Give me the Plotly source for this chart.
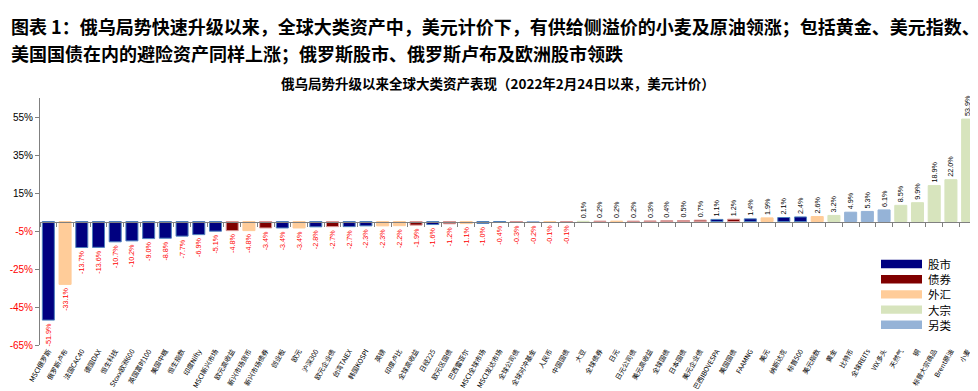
import plotly.graph_objects as go

categories = [
    "MSCI俄罗斯", "俄罗斯卢布", "法国CAC40", "德国DAX", "恒生科技", "Stoxx欧洲600",
    "英国富时100", "美国中概", "恒生指数", "印度Nifty", "MSCI新兴市场", "欧元高收益",
    "新兴市场货币", "新兴市场债券", "创业板", "欧元", "沪深300", "欧元企业债",
    "台湾TAIEX", "韩国KOSPI", "英镑", "印度卢比", "全球高收益", "日经225",
    "欧元区国债", "巴西雷亚尔", "MSCI全球市场", "MSCI发达市场", "全球公司债",
    "全球对冲基金", "人民币", "中国国债", "大豆", "全球债券", "日元", "日元公司债",
    "美元高收益", "全球国债", "日本国债", "美元企业债", "巴西IBOVESPA", "美国国债",
    "FAAMNG", "美元", "纳斯达克", "标普500", "美元指数", "黄金", "比特币",
    "全球REITs", "VIX多头", "天然气", "铜", "标普大宗商品", "Brent原油", "小麦",
]
values = [
    -51.9, -33.1, -13.7, -13.6, -10.7, -10.2, -9.0, -8.8, -7.7, -6.9, -5.1, -4.8,
    -4.8, -3.4, -3.4, -3.4, -2.8, -2.7, -2.7, -2.3, -2.3, -2.2, -1.9, -1.6,
    -1.2, -1.1, -1.0, -0.4, -0.3, -0.2, -0.1, -0.1, 0.1, 0.2, 0.2, 0.2,
    0.3, 0.4, 0.5, 0.7, 1.1, 1.2, 1.4, 1.9, 2.1, 2.4, 2.6, 3.2, 4.9,
    5.3, 6.1, 8.5, 9.9, 18.9, 22.0, 53.9,
]
asset_types = [
    "股市", "外汇", "股市", "股市", "股市", "股市", "股市", "股市", "股市", "股市",
    "股市", "债券", "外汇", "债券", "股市", "外汇", "股市", "债券", "股市", "股市",
    "外汇", "外汇", "债券", "股市", "债券", "外汇", "股市", "股市", "债券", "另类",
    "外汇", "债券", "大宗", "债券", "外汇", "债券", "债券", "债券", "债券", "债券",
    "股市", "债券", "股市", "外汇", "股市", "股市", "外汇", "大宗", "另类", "另类",
    "另类", "大宗", "大宗", "大宗", "大宗", "大宗",
]
type_names = ["股市", "债券", "外汇", "大宗", "另类"]
y_ticks = [-65, -45, -25, -5, 15, 35, 55]

type_fill = {"股市": "#000080", "债券": "#800000", "外汇": "#FFCC99",
             "大宗": "#D7E4BD", "另类": "#95B3D7"}
type_line = {"股市": "#4F81BD", "债券": "#D99694", "外汇": "#FFCC99",
             "大宗": "#D7E4BD", "另类": "#95B3D7"}

NEG = "#FF0000"
POS = "#000000"
CJK = "Noto Sans CJK SC"

fig = go.Figure()
fig.add_trace(go.Bar(
    x=categories, y=values,
    marker=dict(color=[type_fill[t] for t in asset_types],
                line=dict(color=[type_line[t] for t in asset_types], width=1)),
    text=[f"{v:.1f}%" for v in values],
    textposition="outside", textangle=-90, constraintext="none",
    textfont=dict(size=7.2, family="Liberation Sans",
                  color=[NEG if v < 0 else POS for v in values]),
    cliponaxis=False, showlegend=False, hoverinfo="skip",
))
# helper trace so the zero-line category axis is drawn
fig.add_trace(go.Scatter(x=categories, y=values, xaxis="x2", mode="markers",
                         marker=dict(opacity=0), showlegend=False, hoverinfo="skip"))

# plot area geometry in pixels
W, H = 978, 391
ML, MR, MT, MB = 32, 10, 90, 54
PW, PH = W - ML - MR, H - MT - MB


def px(x):
    return (x - ML) / PW


def py(y):
    return (H - MB - y) / PH


ticktext = [f'<span style="color:{NEG if t < 0 else POS}">{t}%</span>' for t in y_ticks]

fig.update_layout(
    width=W, height=H,
    margin=dict(l=ML, r=MR, t=MT, b=MB, autoexpand=False),
    paper_bgcolor="white", plot_bgcolor="white",
    bargap=0.28,
    font=dict(family=CJK, color="#000000"),
    xaxis=dict(type="category", range=[-0.5, len(categories) - 0.5],
               tickangle=-60, tickfont=dict(size=6.8, family=CJK),
               showline=False, ticks="", showgrid=False, zeroline=False,
               automargin=False),
    xaxis2=dict(type="category", overlaying="x", anchor="free", position=0.5,
                range=[-0.5, len(categories) - 0.5],
                showline=True, linecolor="#808080", linewidth=1,
                ticks="outside", ticklen=4, tickcolor="#808080", tickson="boundaries",
                showticklabels=False, showgrid=False, zeroline=False),
    yaxis=dict(range=[-65, 65], tickvals=y_ticks, ticktext=ticktext,
               tickfont=dict(size=10, family="Liberation Sans"),
               showline=True, linecolor="#808080", linewidth=1,
               ticks="outside", ticklen=4, tickcolor="#808080",
               showgrid=False, zeroline=False, automargin=False),
)

annotations = [
    dict(text="<b>图表 1：俄乌局势快速升级以来，全球大类资产中，美元计价下，有供给侧溢价的小麦及原油领涨；包括黄金、美元指数、</b>",
         x=px(1), y=py(18), xanchor="left", yanchor="middle",
         font=dict(size=18, family=CJK, color="#000000")),
    dict(text="<b>美国国债在内的避险资产同样上涨；俄罗斯股市、俄罗斯卢布及欧洲股市领跌</b>",
         x=px(1), y=py(45), xanchor="left", yanchor="middle",
         font=dict(size=18, family=CJK, color="#000000")),
    dict(text="<b>俄乌局势升级以来全球大类资产表现（2022年2月24日以来，美元计价）</b>",
         x=px(490), y=py(75), xanchor="center", yanchor="middle",
         font=dict(size=13.5, family=CJK, color="#000000")),
]
shapes = []
for i, t in enumerate(type_names):
    yc = 256 + i * 15.2
    shapes.append(dict(type="rect", xref="paper", yref="paper",
                       x0=px(873), x1=px(914), y0=py(yc + 4.2), y1=py(yc - 4.2),
                       fillcolor=type_fill[t], line=dict(width=0)))
    annotations.append(dict(text=t, x=px(918), y=py(yc), xanchor="left", yanchor="middle",
                            font=dict(size=11.5, family=CJK, color="#000000"),
                            height=14, valign="middle"))
for a in annotations:
    a.update(xref="paper", yref="paper", showarrow=False)
fig.update_layout(annotations=annotations, shapes=shapes)

fig.write_html("out.html")
